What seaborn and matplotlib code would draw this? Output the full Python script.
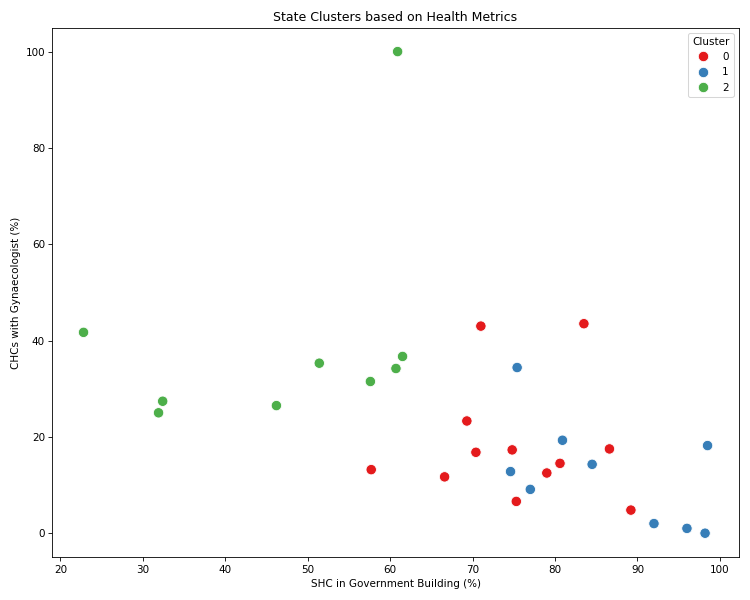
import pandas as pd
import matplotlib
matplotlib.use('Agg')
import matplotlib.pyplot as plt
import seaborn as sns

# Values
shc_gov_building = [60.9, 22.8, 32.4, 31.9, 46.2, 51.4, 57.6, 60.7, 61.5,
                    71.0, 83.5, 69.3, 57.7, 66.6, 70.4, 74.8, 75.3, 79.0, 80.6, 86.6, 89.2,
                    75.4, 80.9, 74.6, 77.0, 84.5, 98.5, 92.0, 96.0, 98.2]
chc_gynaecologist = [100.0, 41.7, 27.4, 25.0, 26.5, 35.3, 31.5, 34.2, 36.7,
                     43.0, 43.5, 23.3, 13.2, 11.7, 16.8, 17.3, 6.6, 12.5, 14.5, 17.5, 4.8,
                     34.4, 19.3, 12.8, 9.1, 14.3, 18.2, 2.0, 1.0, 0.0]
cluster = [2] * 9 + [0] * 12 + [1] * 9

df = pd.DataFrame({
    'SHC in Government Building (%)': shc_gov_building,
    'CHCs with Gynaecologist (%)': chc_gynaecologist,
    'Cluster': cluster,
})

fig, ax = plt.subplots(figsize=(10, 8), dpi=75)
sns.scatterplot(data=df, x='SHC in Government Building (%)', y='CHCs with Gynaecologist (%)',
                hue='Cluster', palette='Set1', s=100, ax=ax)
ax.set_title('State Clusters based on Health Metrics')
plt.tight_layout()
plt.savefig('out.png', dpi=75)
